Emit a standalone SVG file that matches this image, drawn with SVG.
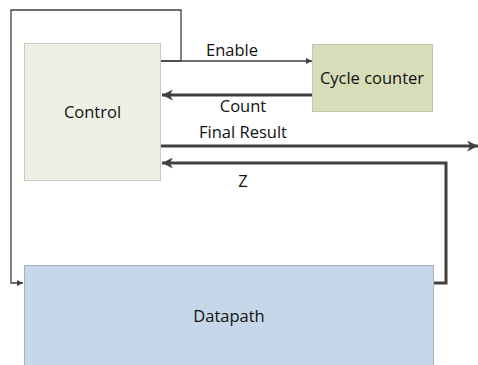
<svg xmlns="http://www.w3.org/2000/svg" width="478" height="365" viewBox="0 0 478 365">
  <style>
    .lbl { font-family: "Open Sans", "Liberation Sans", Arial, sans-serif; font-size: 16.5px; fill: #111; }
    .thin { fill: none; stroke: #404040; stroke-width: 1.3; }
    .thick { fill: none; stroke: #404040; stroke-width: 3; }
    .box { stroke-width: 1; }
  </style>
  <defs>
    <marker id="arrSmall" viewBox="0 0 10 10" refX="10" refY="5" markerWidth="8" markerHeight="6" markerUnits="userSpaceOnUse" orient="auto">
      <path d="M0,0 L10,5 L0,10 z" fill="#404040"/>
    </marker>
    <marker id="arrBig" viewBox="0 0 10 10" refX="10" refY="5" markerWidth="11" markerHeight="11" markerUnits="userSpaceOnUse" orient="auto">
      <path d="M0,0 L10,5 L0,10 L3,5 z" fill="#404040"/>
    </marker>
  </defs>

  <!-- connectors -->
  <g id="connectors">
    <!-- control to datapath loop -->
    <path class="thin" d="M161,61 H181 V10 H11 V283 H23" marker-end="url(#arrSmall)"/>
    <!-- enable -->
    <path class="thin" d="M161,61 H312" marker-end="url(#arrSmall)"/>
    <!-- count -->
    <path class="thick" d="M313,95 H162" marker-end="url(#arrBig)"/>
    <!-- final result -->
    <path class="thick" d="M161,146 H478" marker-end="url(#arrBig)"/>
    <!-- z -->
    <path class="thick" d="M433,283 H446 V163 H162" marker-end="url(#arrBig)"/>
    <text class="lbl" x="232" y="56" text-anchor="middle">Enable</text>
    <text class="lbl" x="243" y="112" text-anchor="middle">Count</text>
    <text class="lbl" x="243" y="138" text-anchor="middle">Final Result</text>
    <text class="lbl" x="243" y="187" text-anchor="middle">Z</text>
  </g>

  <g id="control">
    <rect class="box" x="24.5" y="43.5" width="136" height="137" fill="#eef0e6" stroke="#c9cbc3"/>
    <text class="lbl" x="92.5" y="118" text-anchor="middle">Control</text>
  </g>

  <g id="cycle-counter">
    <rect class="box" x="312.5" y="44.5" width="120" height="67" fill="#d7dcb9" stroke="#c2c6ab"/>
    <text class="lbl" x="372" y="84" text-anchor="middle">Cycle counter</text>
  </g>

  <g id="datapath">
    <rect class="box" x="24.5" y="265.5" width="409" height="110" fill="#c5d7e8" stroke="#a7b5c3"/>
    <text class="lbl" x="229" y="322" text-anchor="middle">Datapath</text>
  </g>
</svg>
